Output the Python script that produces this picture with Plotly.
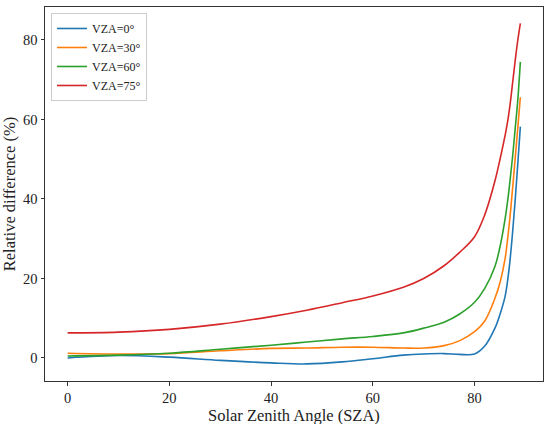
import plotly.graph_objects as go

# solar zenith angle samples
sza = [0, 10, 20, 30, 40, 47, 54, 60, 66, 70, 74, 77, 80, 82, 84, 85, 86, 86.5, 87, 87.5, 88, 88.5, 89]

vza0 = [0.0, 0.6, 0.2, -0.6, -1.25, -1.5, -1.0, -0.2, 0.7, 1.0, 1.1, 0.9, 1.0, 3.0, 7.5, 11, 15.5, 19.5, 25, 32, 40, 49, 58.2]
vza30 = [1.2, 1.0, 1.1, 1.8, 2.4, 2.5, 2.7, 2.7, 2.5, 2.5, 3.1, 4.3, 6.6, 9.3, 15, 19, 25, 30, 36, 43, 50.5, 58, 65.6]
vza60 = [0.5, 0.7, 1.2, 2.2, 3.2, 4.0, 4.8, 5.4, 6.3, 7.5, 9.0, 11.0, 14.0, 17.5, 23, 28, 35, 39.5, 45, 51, 58, 65, 74.5]
vza75 = [6.3, 6.5, 7.2, 8.5, 10.4, 12.0, 13.9, 15.6, 17.8, 20.0, 23.2, 26.5, 30.5, 36, 44.5, 50, 56, 59.5, 64, 69.5, 75, 80, 84.2]

series = [
    ("VZA=0°", vza0, "#1f77b4"),
    ("VZA=30°", vza30, "#ff7f0e"),
    ("VZA=60°", vza60, "#2ca02c"),
    ("VZA=75°", vza75, "#d62728"),
]

font = "Liberation Serif, Times New Roman, serif"

fig = go.Figure()
for name, vals, col in series:
    fig.add_trace(go.Scatter(
        x=sza, y=vals, name=name, mode="lines",
        line=dict(color=col, width=1.6, shape="spline", smoothing=1.0),
    ))

axis_style = dict(
    showline=True, linecolor="#333", linewidth=1, mirror=True,
    ticks="outside", ticklen=3.5, tickcolor="#333",
    showgrid=False, zeroline=False, dtick=20, automargin=False,
    tickfont=dict(family=font, size=14.5, color="#222"),
)

fig.update_xaxes(range=[-4.45, 93.45], tick0=0, **axis_style)
fig.update_yaxes(range=[-5.8, 88.3], tick0=0,
                 title=dict(text="Relative difference (%)", font=dict(family=font, size=16.5, color="#222"), standoff=6),
                 **axis_style)

# x axis title placed by hand so it clears the tick labels
fig.add_annotation(text="Solar Zenith Angle (SZA)", xref="paper", yref="paper",
                   x=0.5, y=-0.092, xanchor="center", yanchor="middle", showarrow=False,
                   font=dict(family=font, size=16.5, color="#222"))

fig.update_layout(
    width=550, height=424,
    margin=dict(l=45, r=7, t=7, b=43),
    paper_bgcolor="white", plot_bgcolor="white",
    showlegend=True,
    legend=dict(x=0.012, y=0.984, xanchor="left", yanchor="top",
                bgcolor="rgba(255,255,255,0.8)", bordercolor="#ccc", borderwidth=1,
                font=dict(family=font, size=12, color="#222"),
                tracegroupgap=0, itemwidth=30),
)

fig.write_html("out.html", config={"displayModeBar": False},
               post_script="document.body.style.margin='0';")
